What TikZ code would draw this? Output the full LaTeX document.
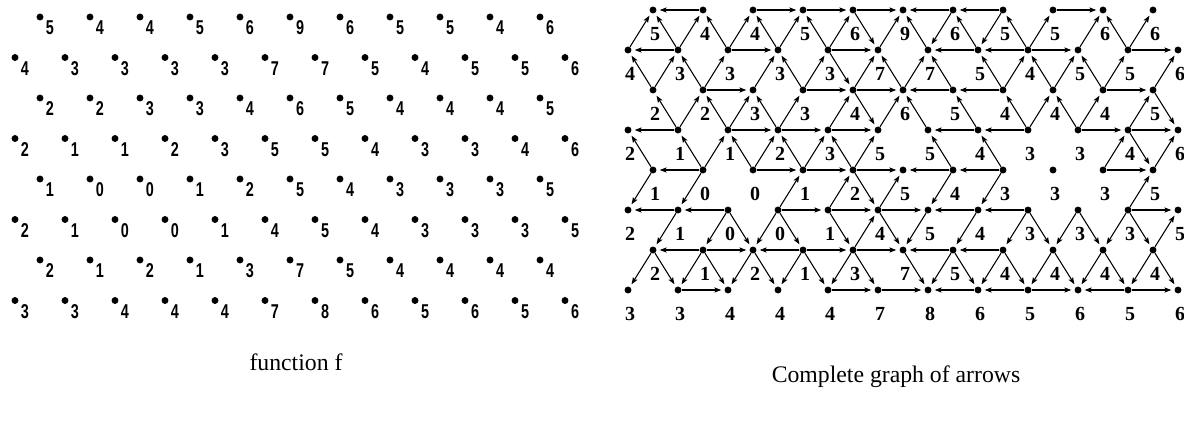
\documentclass[tikz,border=0pt]{standalone}
\usepackage{fontspec}
\setmainfont{Liberation Serif}
\newfontfamily\lsans{Liberation Sans}
\usetikzlibrary{arrows.meta}
% values of the right panel (12 per row, even rows padded)
\def\V{{5,4,4,5,6,9,6,5,5,6,6,0,4,3,3,3,3,7,7,5,4,5,5,6,2,2,3,3,4,6,5,4,4,4,5,0,2,1,1,2,3,5,5,4,3,3,4,6,1,0,0,1,2,5,4,3,3,3,5,0,2,1,0,0,1,4,5,4,3,3,3,5,2,1,2,1,3,7,5,4,4,4,4,0,3,3,4,4,4,7,8,6,5,6,5,6}}
% values printed in the left panel
\def\L{{5,4,4,5,6,9,6,5,5,4,6,0,4,3,3,3,3,7,7,5,4,5,5,6,2,2,3,3,4,6,5,4,4,4,5,0,2,1,1,2,3,5,5,4,3,3,4,6,1,0,0,1,2,5,4,3,3,3,5,0,2,1,0,0,1,4,5,4,3,3,3,5,2,1,2,1,3,7,5,4,4,4,4,0,3,3,4,4,4,7,8,6,5,6,5,6}}
\newcommand\lnk[4]{%
  \pgfmathtruncatemacro\va{\V[#1*12+#2]}%
  \pgfmathtruncatemacro\vb{\V[#3*12+#4]}%
  \ifnum\va<\vb\relax \draw[arr] (r#1-#2) -- (r#3-#4);\fi
  \ifnum\va>\vb\relax \draw[arr] (r#3-#4) -- (r#1-#2);\fi}
\begin{document}
\begin{tikzpicture}[x=0.75pt,y=-0.75pt,
  dot/.style={circle,fill=black,inner sep=0pt,minimum size=5.2pt},
  rlab/.style={font=\bfseries\fontsize{15}{15}\selectfont,inner sep=0pt},
  llab/.style={font=\lsans\bfseries\fontsize{15}{15}\selectfont,inner sep=0pt},
  captext/.style={font=\fontsize{17.8}{20}\selectfont,inner sep=0pt},
  arr/.style={line width=0.8pt,-{Stealth[length=5.2pt,width=3.8pt,inset=1pt]},shorten >=2.2pt}]
\path[use as bounding box] (0,0) rectangle (1184,446);
% dots and labels
\foreach \r in {0,...,7}{
  \pgfmathtruncatemacro\odd{mod(\r,2)}
  \pgfmathtruncatemacro\n{\odd==1 ? 11 : 10}
  \foreach \k in {0,...,\n}{
    \pgfmathsetmacro\xx{\odd==1 ? 628+50*\k : 653+50*\k}
    \pgfmathsetmacro\yy{10+40*\r}
    \pgfmathtruncatemacro\v{\V[\r*12+\k]}
    \node[dot] (r\r-\k) at (\xx,\yy) {};
    \node[rlab] (t\r-\k) at (\xx+2,\yy+24) {\v};
    \pgfmathsetmacro\lx{\odd==1 ? 15+50*\k : 40+50*\k}
    \pgfmathsetmacro\ly{17+40.5*\r}
    \pgfmathtruncatemacro\w{\L[\r*12+\k]}
    \node[dot] (l\r-\k) at (\lx,\ly) {};
    \node[llab] (u\r-\k) at (\lx+10,\ly+11) {\scalebox{0.72}[1]{\w}};
  }
}
% horizontal edges
\foreach \r in {0,...,7}{
  \pgfmathtruncatemacro\odd{mod(\r,2)}
  \pgfmathtruncatemacro\m{\odd==1 ? 10 : 9}
  \foreach \k in {0,...,\m}{
    \pgfmathtruncatemacro\kk{\k+1}
    \lnk{\r}{\k}{\r}{\kk}
  }
}
% diagonal edges
\foreach \r in {0,2,4,6}{
  \pgfmathtruncatemacro\rr{\r+1}
  \pgfmathtruncatemacro\rp{\r-1}
  \foreach \k in {0,...,10}{
    \pgfmathtruncatemacro\kk{\k+1}
    \lnk{\r}{\k}{\rr}{\k}
    \lnk{\r}{\k}{\rr}{\kk}
    \ifnum\r>0\relax
      \lnk{\r}{\k}{\rp}{\k}
      \lnk{\r}{\k}{\rp}{\kk}
    \fi
  }
}
% arrows between equal values
\draw[arr] (r1-2) -- (r1-3);
\draw[arr] (r0-7) -- (r1-7);
\draw[arr] (r2-7) -- (r1-8);
\draw[arr] (r2-8) -- (r1-8);
\draw[arr] (r2-2) -- (r1-3);
\draw[arr] (r2-3) -- (r1-3);
\draw[arr] (r2-3) -- (r1-4);
% captions
\node[captext] (capL) at (296,362) {function f};
\node[captext] (capR) at (896,377) {Complete graph of arrows};
\end{tikzpicture}
\end{document}
